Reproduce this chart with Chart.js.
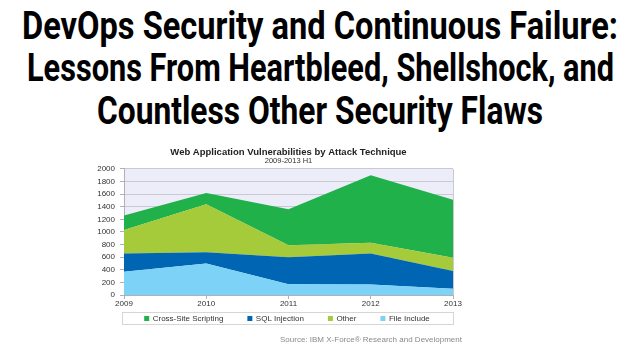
<!DOCTYPE html>
<html><head><meta charset="utf-8">
<script src="https://cdn.jsdelivr.net/npm/chart.js@4.4.1/dist/chart.umd.min.js"></script>
<style>
html,body{margin:0;padding:0;background:#fff;width:640px;height:360px;overflow:hidden;}
#head{position:absolute;left:0;top:0;width:640px;height:140px;}
#head text{font-family:Roboto,"DejaVu Sans Condensed",sans-serif;font-weight:bold;font-size:38px;fill:#000;}
#wrap{position:absolute;left:0;top:140px;width:640px;height:220px;}
#src{position:absolute;left:0;width:462px;text-align:right;top:335px;font:8px "Liberation Sans",Arial,sans-serif;color:#8a8a8a;white-space:nowrap;}
</style></head>
<body>
<svg id="head" width="640" height="140" viewBox="0 0 640 140">
  <text x="22" y="38.5" textLength="596" lengthAdjust="spacingAndGlyphs">DevOps Security and Continuous Failure:</text>
  <text x="27" y="81" textLength="587" lengthAdjust="spacingAndGlyphs">Lessons From Heartbleed, Shellshock, and</text>
  <text x="97" y="123.5" textLength="446" lengthAdjust="spacingAndGlyphs">Countless Other Security Flaws</text>
</svg>
<div id="wrap"><canvas id="c" width="640" height="220"></canvas></div>
<div id="src">Source: IBM X-Force® Research and Development</div>
<script>
const years = ['2009', '2010', '2011', '2012', '2013'];
const crossSiteScripting = [230, 180, 570, 1070, 920];
const sqlInjection = [290, 180, 430, 495, 280];
const other = [370, 760, 190, 170, 210];
const fileInclude = [370, 500, 170, 165, 100];
const seriesNames = ['File Include', 'SQL Injection', 'Other', 'Cross-Site Scripting'];
const legendNames = ['Cross-Site Scripting', 'SQL Injection', 'Other', 'File Include'];
const colors = {
  'Cross-Site Scripting': '#21b14b',
  'SQL Injection': '#0066b3',
  'Other': '#a5cb3a',
  'File Include': '#7dd3f7'
};
const seriesData = [fileInclude, sqlInjection, other, crossSiteScripting];

const font = '"Liberation Sans", Arial, sans-serif';

const plotBg = {
  id: 'plotBg',
  beforeDraw(chart) {
    const a = chart.chartArea, ctx = chart.ctx;
    ctx.save();
    ctx.fillStyle = '#ecedf8';
    ctx.fillRect(a.left, a.top, a.right - a.left, a.bottom - a.top);
    ctx.restore();
  }
};

const boxLegend = {
  id: 'boxLegend',
  afterDraw(chart) {
    const ctx = chart.ctx, a = chart.chartArea;
    const top = a.bottom + 17.5, h = 12;
    ctx.save();
    ctx.strokeStyle = '#d6d6d6';
    ctx.lineWidth = 1;
    ctx.strokeRect(a.left - 1.5, top, a.right - a.left + 2, h);
    ctx.font = '8px ' + font;
    ctx.textBaseline = 'middle';
    const box = 5, gap = 3.5, spacing = 24;
    const widths = legendNames.map(n => box + gap + ctx.measureText(n).width);
    const total = widths.reduce((s, w) => s + w, 0) + spacing * (legendNames.length - 1);
    let x = 287 - total / 2;
    const cy = top + h / 2;
    legendNames.forEach((n, i) => {
      ctx.fillStyle = colors[n];
      ctx.fillRect(x, cy - box / 2, box, box);
      ctx.fillStyle = '#333';
      ctx.fillText(n, x + box + gap, cy + 0.5);
      x += widths[i] + spacing;
    });
    ctx.restore();
  }
};

new Chart(document.getElementById('c'), {
  type: 'line',
  data: {
    labels: years,
    datasets: seriesNames.map((n, i) => ({
      label: n,
      data: seriesData[i],
      backgroundColor: colors[n],
      borderColor: colors[n],
      borderWidth: 0,
      pointRadius: 0,
      tension: 0,
      fill: i === 0 ? 'origin' : '-1'
    }))
  },
  options: {
    responsive: false,
    animation: false,
    devicePixelRatio: 1,
    layout: { padding: { left: 84, right: 187, top: 0, bottom: 51 } },
    plugins: {
      legend: { display: false },
      tooltip: { enabled: false },
      title: {
        display: true,
        fullSize: false,
        text: 'Web Application Vulnerabilities by Attack Technique',
        color: '#222',
        font: { family: font, size: 9.5, weight: 'bold', lineHeight: 1.1 },
        padding: { top: 7, bottom: 0 }
      },
      subtitle: {
        display: true,
        fullSize: false,
        text: '2009-2013 H1',
        color: '#333',
        font: { family: font, size: 7.5, lineHeight: 1 },
        padding: { top: 0, bottom: 4 }
      }
    },
    scales: {
      x: {
        stacked: true,
        offset: false,
        grid: {
          drawOnChartArea: true,
          color: c => c.index === 4 ? '#c9c9d2' : 'rgba(0,0,0,0)',
          tickColor: '#b0b0b8',
          tickLength: 4
        },
        border: { display: true, color: '#b0b0b8' },
        ticks: { color: '#333', font: { family: font, size: 8 }, padding: 0, maxRotation: 0 },
        afterFit: s => { s.height = 14; }
      },
      y: {
        stacked: true,
        min: 0,
        max: 2000,
        ticks: { stepSize: 200, color: '#333', font: { family: font, size: 8 }, padding: 5, callback: v => String(v) },
        grid: { color: '#c9c9d2', tickColor: '#b0b0b8', tickLength: 4 },
        border: { display: true, color: '#b0b0b8' },
        afterFit: s => { s.width = 40; }
      }
    }
  },
  plugins: [plotBg, boxLegend]
});
</script>
</body></html>
